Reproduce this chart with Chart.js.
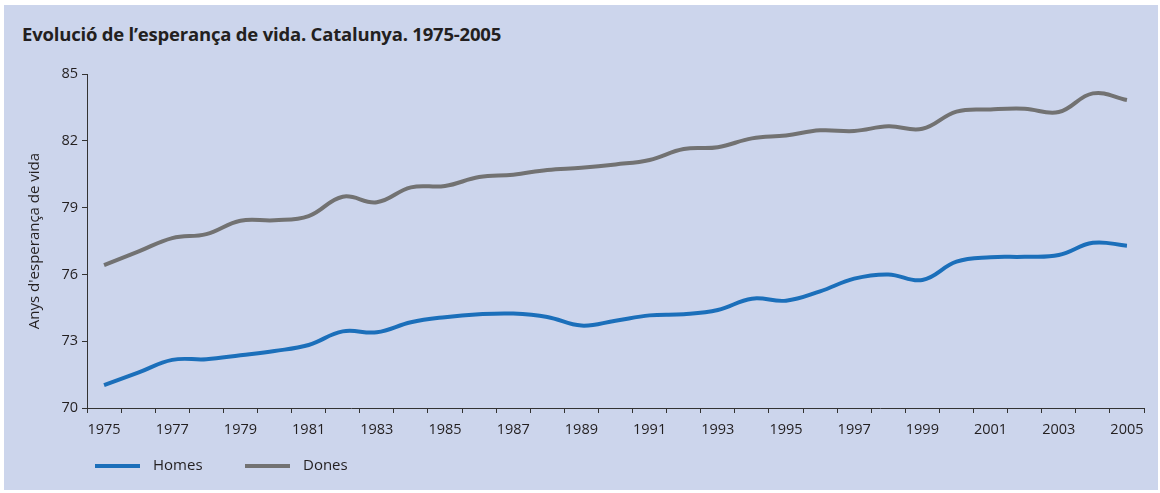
<!DOCTYPE html>
<html lang="ca">
<head>
  <meta charset="UTF-8">
  <title>Evolució de l'esperança de vida. Catalunya. 1975-2005</title>
  <script src="https://cdn.jsdelivr.net/npm/chart.js"></script>
  <style>
    * { box-sizing: border-box; }
    body {
      margin: 0;
      background: #fff;
      font-family: 'Open Sans', sans-serif;
    }
    .panel {
      position: absolute;
      left: 4px;
      top: 5px;
      width: 1154px;
      height: 485px;
      background: #ccd5ec;
    }
    .panel h2 {
      position: absolute;
      left: 18px;
      top: 16px;
      margin: 0;
      font-size: 18.5px;
      font-weight: 700;
      color: #231f20;
      letter-spacing: -0.2px;
    }
    canvas { position: absolute; left: 0; top: 0; }
  </style>
</head>
<body>
  <div class="panel">
    <h2>Evolució de l’esperança de vida. Catalunya. 1975-2005</h2>
    <canvas id="grafica" width="1154" height="485"></canvas>
  </div>
<script>
// dades llegides del gràfic
const anys = ['1975','1976','1977','1978','1979','1980','1981','1982','1983','1984',
  '1985','1986','1987','1988','1989','1990','1991','1992','1993','1994',
  '1995','1996','1997','1998','1999','2000','2001','2002','2003','2004','2005'];
const homes = [71.03, 71.59, 72.16, 72.19, 72.37, 72.56, 72.83, 73.44, 73.40, 73.85,
  74.08, 74.21, 74.24, 74.09, 73.70, 73.92, 74.16, 74.21, 74.40, 74.91,
  74.82, 75.24, 75.81, 76.00, 75.75, 76.57, 76.77, 76.79, 76.87, 77.42, 77.29];
const dones = [76.42, 77.02, 77.63, 77.81, 78.41, 78.43, 78.62, 79.49, 79.24, 79.91,
  79.97, 80.37, 80.48, 80.69, 80.79, 80.94, 81.14, 81.63, 81.71, 82.11,
  82.24, 82.47, 82.44, 82.65, 82.54, 83.31, 83.41, 83.44, 83.29, 84.13, 83.83];
const yMin = 70, yMax = 85, yPas = 3;

const colorText = '#231f20';
const colorEix = '#333';

// llegenda de línies a sota, a l'esquerra
const llegenda = {
  id: 'llegenda',
  afterDraw(chart) {
    const ctx = chart.ctx;
    let x = 91;
    const y = 461;
    ctx.save();
    ctx.font = '15px "Open Sans"';
    ctx.textBaseline = 'middle';
    chart.data.datasets.forEach(ds => {
      ctx.strokeStyle = ds.borderColor;
      ctx.lineWidth = 4;
      ctx.beginPath();
      ctx.moveTo(x, y);
      ctx.lineTo(x + 45, y);
      ctx.stroke();
      ctx.fillStyle = colorText;
      ctx.fillText(ds.label, x + 58, y);
      x += 150;
    });
    ctx.restore();
  }
};

const ctx = document.getElementById('grafica').getContext('2d');
new Chart(ctx, {
  type: 'line',
  data: {
    labels: anys,
    datasets: [
      {
        label: 'Homes',
        data: homes,
        borderColor: '#1b6fba',
        borderWidth: 4,
        pointRadius: 0,
        tension: 0.4,
        fill: false
      },
      {
        label: 'Dones',
        data: dones,
        borderColor: '#727272',
        borderWidth: 4,
        pointRadius: 0,
        tension: 0.4,
        fill: false
      }
    ]
  },
  options: {
    responsive: false,
    animation: false,
    layout: { padding: { top: 69, right: 14, bottom: 52, left: 0 } },
    plugins: {
      legend: { display: false },
      tooltip: { enabled: false }
    },
    scales: {
      x: {
        offset: true,
        border: { color: colorEix, width: 1 },
        grid: {
          offset: true,
          drawOnChartArea: false,
          drawTicks: true,
          tickLength: 5,
          color: colorEix
        },
        ticks: {
          autoSkip: false,
          maxRotation: 0,
          padding: 8,
          color: colorText,
          font: { family: 'Open Sans', size: 14.5 },
          callback: (v, i) => (i % 2 === 0 ? anys[i] : '')
        },
        afterFit: s => { s.height = 30; }
      },
      y: {
        min: yMin,
        max: yMax,
        border: { color: colorEix, width: 1 },
        grid: {
          drawOnChartArea: false,
          drawTicks: true,
          tickLength: 5,
          color: colorEix
        },
        ticks: {
          stepSize: yPas,
          padding: 4,
          color: colorText,
          font: { family: 'Open Sans', size: 14.5 }
        },
        title: {
          display: true,
          text: "Anys d'esperança de vida",
          color: colorText,
          padding: { top: 22, bottom: 0 },
          font: { family: 'Open Sans', size: 15 }
        },
        afterFit: s => { s.width = 83; }
      }
    }
  },
  plugins: [llegenda]
});
</script>
</body>
</html>
